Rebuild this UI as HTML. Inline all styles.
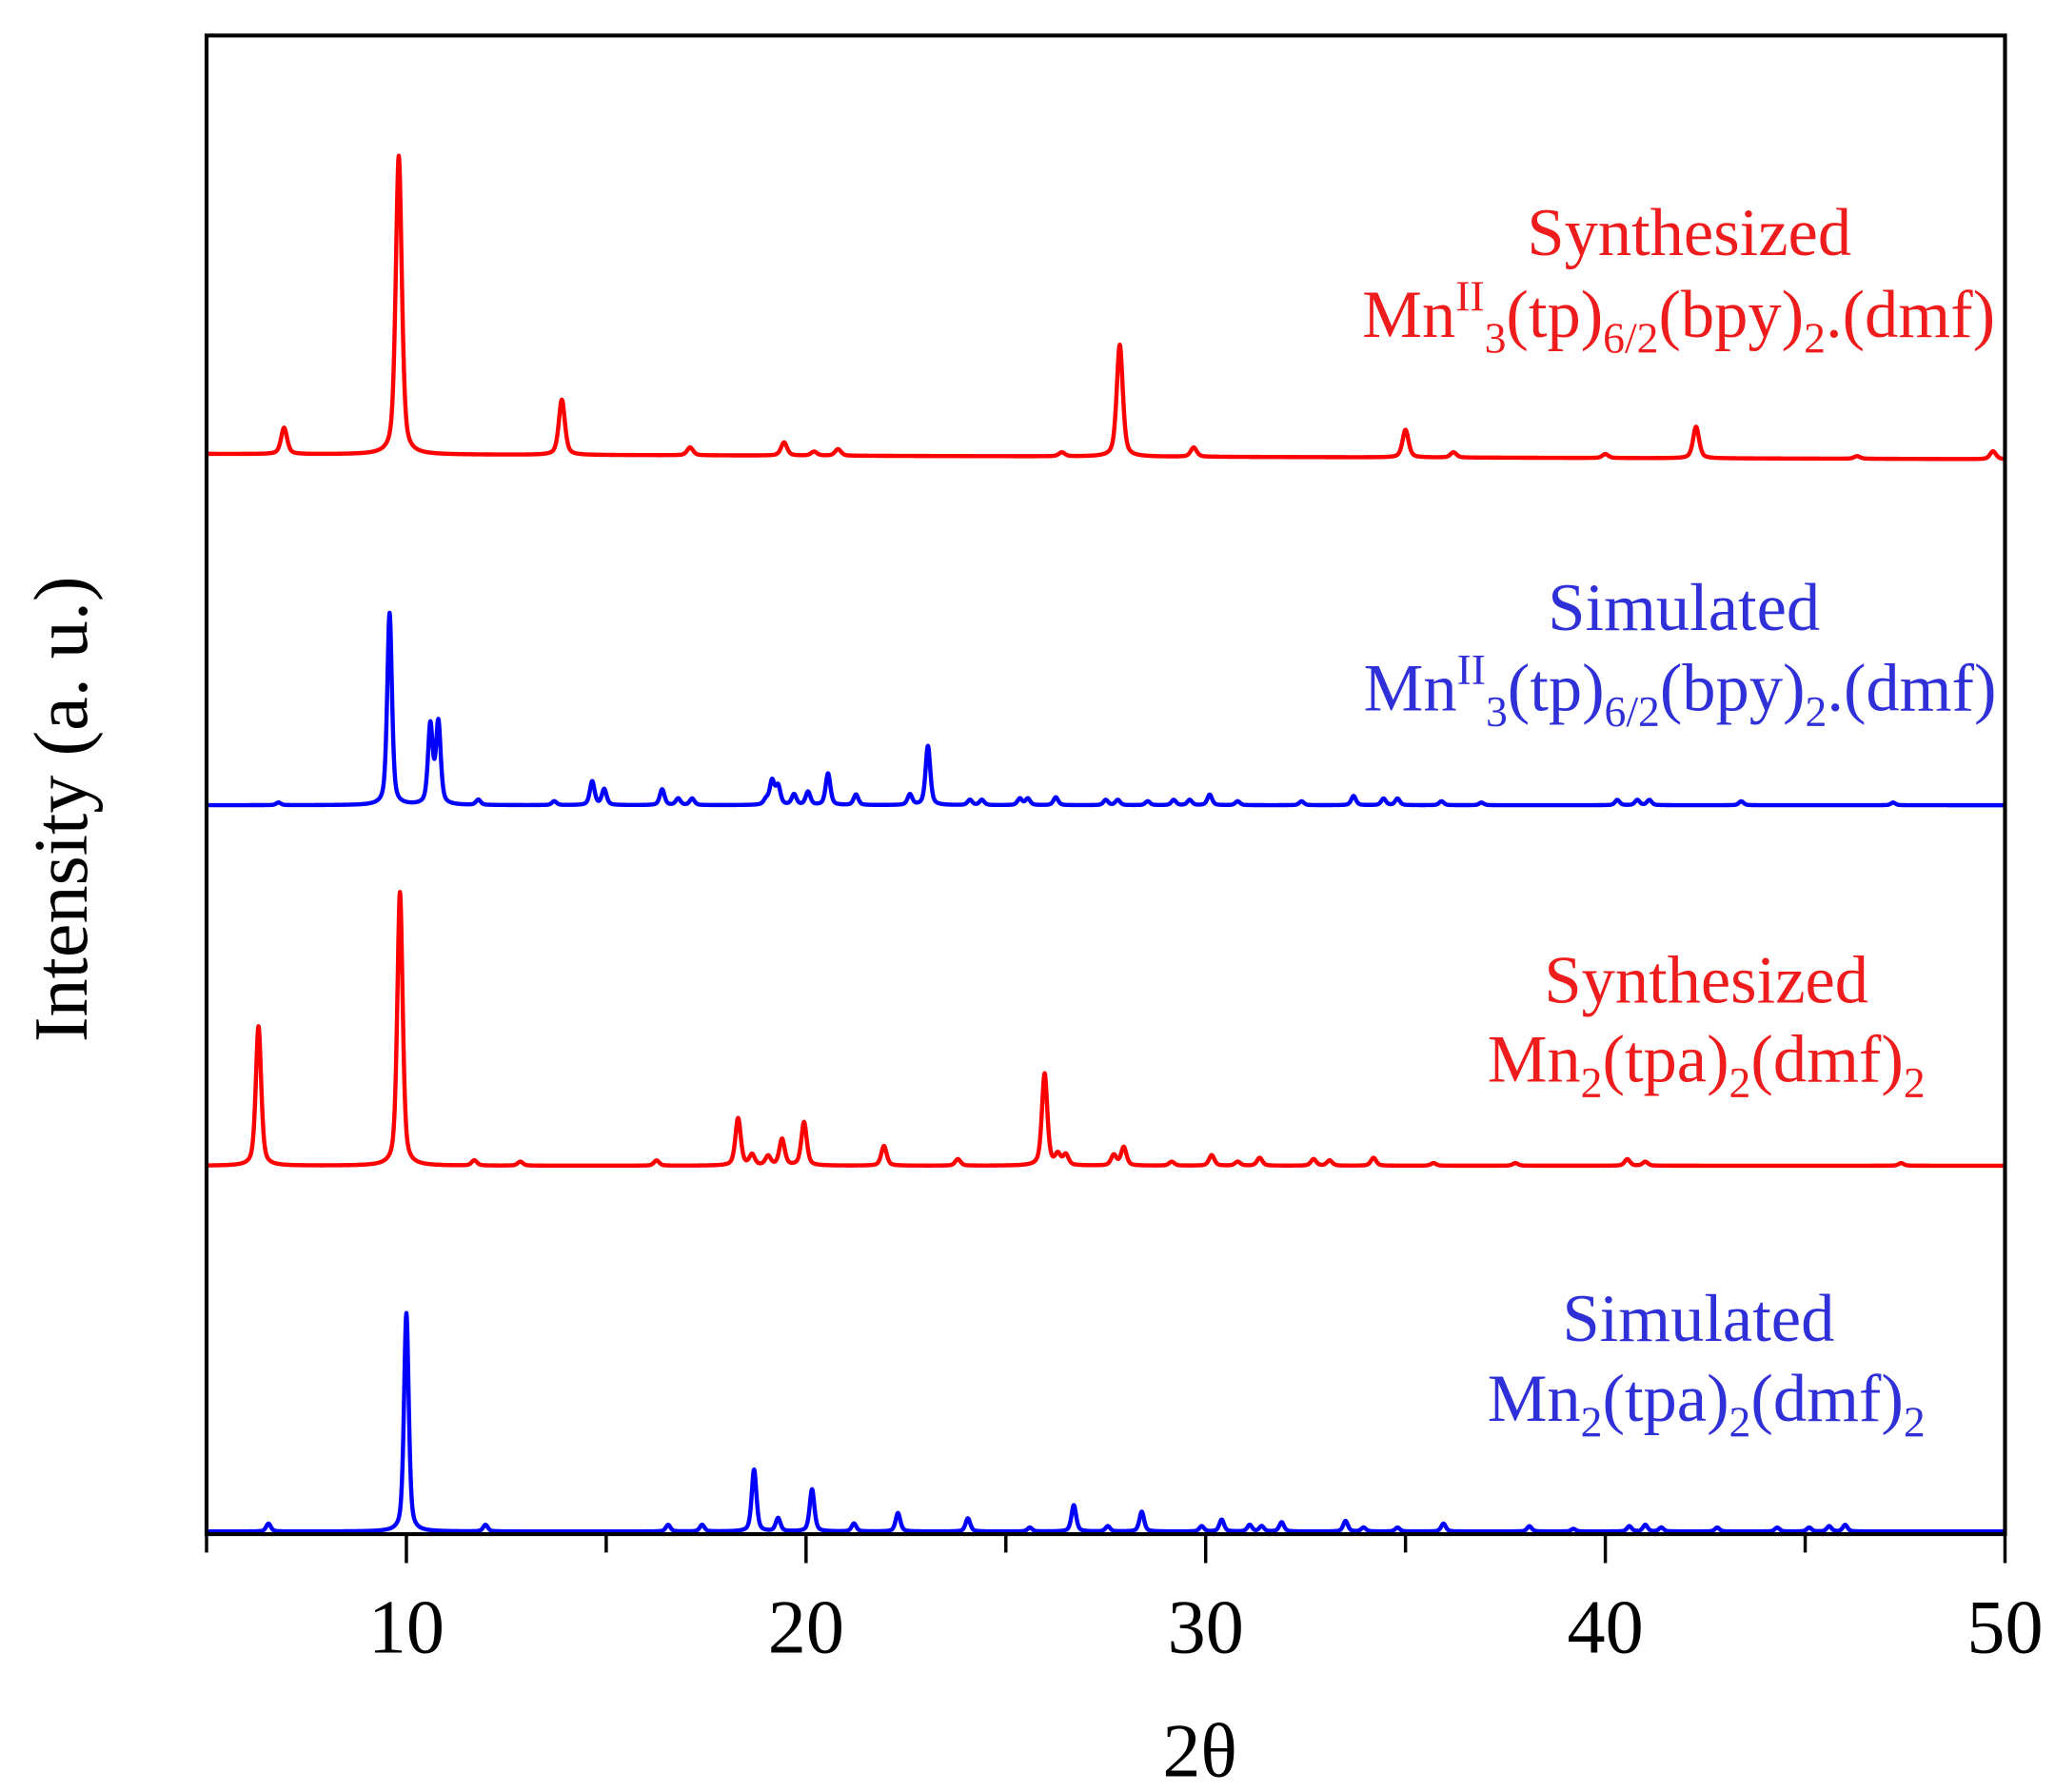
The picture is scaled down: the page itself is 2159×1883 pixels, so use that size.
<!DOCTYPE html>
<html><head><meta charset="utf-8"><style>html,body{margin:0;padding:0;background:#fff}svg{display:block}</style></head>
<body>
<svg id="chart" width="2159" height="1883" viewBox="0 0 1562 1362" preserveAspectRatio="none" xmlns="http://www.w3.org/2000/svg" font-family="'Liberation Serif', serif">
<rect width="1562" height="1362" fill="#fff"/>
<g id="series"></g>
<rect x="157" y="27" width="1367" height="1139" fill="none" stroke="#000" stroke-width="3"/>
<g id="ticks"></g>
<text x="912" y="1350" font-size="58" text-anchor="middle">2θ</text>
<text transform="translate(66,615) rotate(-90)" font-size="58" text-anchor="middle">Intensity (a. u.)</text>
<g font-size="51" text-anchor="middle">
<text x="1284" y="194" fill="#ee1c1c">Synthesized</text>
<text x="1276" y="256" fill="#ee1c1c">Mn<tspan font-size="33" dy="-20">II</tspan><tspan font-size="33" dy="32">3</tspan><tspan dy="-12">(tp)</tspan><tspan font-size="33" dy="12">6/2</tspan><tspan dy="-12">(bpy)</tspan><tspan font-size="33" dy="12">2</tspan><tspan dy="-12">.(dmf)</tspan></text>
<text x="1280" y="479" fill="#3030d8">Simulated</text>
<text x="1277" y="540" fill="#3030d8">Mn<tspan font-size="33" dy="-20">II</tspan><tspan font-size="33" dy="32">3</tspan><tspan dy="-12">(tp)</tspan><tspan font-size="33" dy="12">6/2</tspan><tspan dy="-12">(bpy)</tspan><tspan font-size="33" dy="12">2</tspan><tspan dy="-12">.(dmf)</tspan></text>
<text x="1297" y="762" fill="#ee1c1c">Synthesized</text>
<text x="1297" y="822" fill="#ee1c1c">Mn<tspan font-size="33" dy="12">2</tspan><tspan dy="-12">(tpa)</tspan><tspan font-size="33" dy="12">2</tspan><tspan dy="-12">(dmf)</tspan><tspan font-size="33" dy="12">2</tspan></text>
<text x="1291" y="1019" fill="#3030d8">Simulated</text>
<text x="1297" y="1080" fill="#3030d8">Mn<tspan font-size="33" dy="12">2</tspan><tspan dy="-12">(tpa)</tspan><tspan font-size="33" dy="12">2</tspan><tspan dy="-12">(dmf)</tspan><tspan font-size="33" dy="12">2</tspan></text>
</g>
</svg>
<script>
const xTickValues = [10, 20, 30, 40, 50];
const xMinorTicks = [5, 15, 25, 35, 45];
// series: peak positions (2θ), intensities (a.u.)
const s1Pos = [6.94, 9.81, 13.89, 17.1, 19.45, 20.2, 20.8, 26.4, 27.85, 29.7, 35.0, 36.2, 40.0, 42.27, 46.3, 49.7];
const s1Int = [20, 227, 42, 6, 10, 3, 5, 3, 85, 7, 21, 4, 3, 24, 2, 6];
const s2Pos = [6.8, 9.58, 10.6, 10.8, 11.8, 13.7, 14.65, 14.95, 16.4, 16.8, 17.15, 19.0, 19.15, 19.3, 19.7, 20.05, 20.55, 21.25, 22.6, 23.05, 24.1, 24.4, 25.35, 25.55, 26.25, 27.5, 27.8, 28.55, 29.2, 29.6, 30.1, 30.8, 32.4, 33.7, 34.45, 34.8, 35.9, 36.9, 40.3, 40.8, 41.1, 43.4, 47.2];
const s2Int = [2, 146, 60, 62, 4, 3, 18, 12, 12, 5, 5, 4, 18, 14, 8, 10, 24, 8, 8, 45, 4, 4, 5, 5, 6, 4, 4, 3, 4, 4, 8, 3, 3, 7, 5, 5, 3, 2, 4, 4, 4, 3, 2];
const s3Pos = [6.3, 9.84, 11.7, 12.85, 16.26, 18.3, 18.65, 19.05, 19.4, 19.95, 21.95, 23.8, 25.97, 26.3, 26.5, 27.7, 27.95, 29.15, 30.15, 30.8, 31.35, 32.7, 33.1, 34.2, 35.7, 37.75, 40.55, 41.0, 47.4];
const s3Int = [106, 208, 4, 3, 4, 36, 8, 7, 20, 33, 15, 5, 70, 8, 8, 8, 14, 3, 8, 3, 6, 5, 4, 6, 2, 2, 5, 3, 2];
const s4Pos = [6.55, 10.0, 11.98, 16.55, 17.4, 18.7, 19.3, 20.15, 21.2, 22.3, 24.05, 25.6, 26.7, 27.55, 28.4, 29.9, 30.4, 31.1, 31.4, 31.9, 33.5, 33.95, 34.8, 35.95, 38.1, 39.2, 40.6, 41.0, 41.4, 42.8, 44.3, 45.1, 45.6, 46.0];
const s4Int = [6, 166, 5, 5, 5, 47, 10, 32, 6, 14, 10, 3, 20, 4, 15, 4, 9, 5, 4, 7, 8, 3, 3, 6, 4, 2, 4, 5, 3, 3, 3, 3, 4, 5];
const seriesNames = ['synthesized-mn3', 'simulated-mn3', 'synthesized-mn2', 'simulated-mn2'];

const NS = 'http://www.w3.org/2000/svg';
const X0 = 157, X1 = 1524, XMIN = 5, XMAX = 50;
function xScale(v) { return X0 + (v - XMIN) / (XMAX - XMIN) * (X1 - X0); }
function yScale(v, base) { return base - v; }

const series = [
  {pos: s1Pos, int: s1Int, base: 345, tilt: 4, color: '#ff0000', w: 0.09},
  {pos: s2Pos, int: s2Int, base: 612, tilt: 0, color: '#0000ff', w: 0.07},
  {pos: s3Pos, int: s3Int, base: 886, tilt: 0, color: '#ff0000', w: 0.08},
  {pos: s4Pos, int: s4Int, base: 1164, tilt: 0, color: '#0000ff', w: 0.07}
];
const g = document.getElementById('series');
series.forEach((s, i) => {
  let d = '';
  for (let x = XMIN; x <= XMAX + 1e-9; x += 0.01) {
    let v = 0;
    for (let k = 0; k < s.pos.length; k++) {
      const t = (x - s.pos[k]) / s.w;
      v += s.int[k] * (0.5 / (1 + t * t) + 0.5 * Math.exp(-0.693 * t * t));
    }
    const base = s.base + s.tilt * (x - XMIN) / (XMAX - XMIN);
    d += (d ? 'L' : 'M') + xScale(x).toFixed(2) + ' ' + yScale(v, base).toFixed(2);
  }
  const p = document.createElementNS(NS, 'path');
  p.setAttribute('d', d);
  p.setAttribute('fill', 'none');
  p.setAttribute('stroke', s.color);
  p.setAttribute('stroke-width', '3.2');
  p.setAttribute('stroke-linejoin', 'round');
  
  
  g.appendChild(p);
});

const tg = document.getElementById('ticks');
xTickValues.forEach(v => {
  const l = document.createElementNS(NS, 'line');
  l.setAttribute('x1', xScale(v)); l.setAttribute('x2', xScale(v));
  l.setAttribute('y1', 1166); l.setAttribute('y2', 1188);
  l.setAttribute('stroke', '#000'); l.setAttribute('stroke-width', '2.5');
  
  
  tg.appendChild(l);
  const t = document.createElementNS(NS, 'text');
  t.setAttribute('x', xScale(v)); t.setAttribute('y', 1256);
  t.setAttribute('font-size', '58'); t.setAttribute('text-anchor', 'middle');
  t.textContent = v;
  
  
  tg.appendChild(t);
});
xMinorTicks.forEach(v => {
  const l = document.createElementNS(NS, 'line');
  l.setAttribute('x1', xScale(v)); l.setAttribute('x2', xScale(v));
  l.setAttribute('y1', 1166); l.setAttribute('y2', 1180);
  l.setAttribute('stroke', '#000'); l.setAttribute('stroke-width', '2.5');
  
  
  tg.appendChild(l);
});
</script>
</body></html>
